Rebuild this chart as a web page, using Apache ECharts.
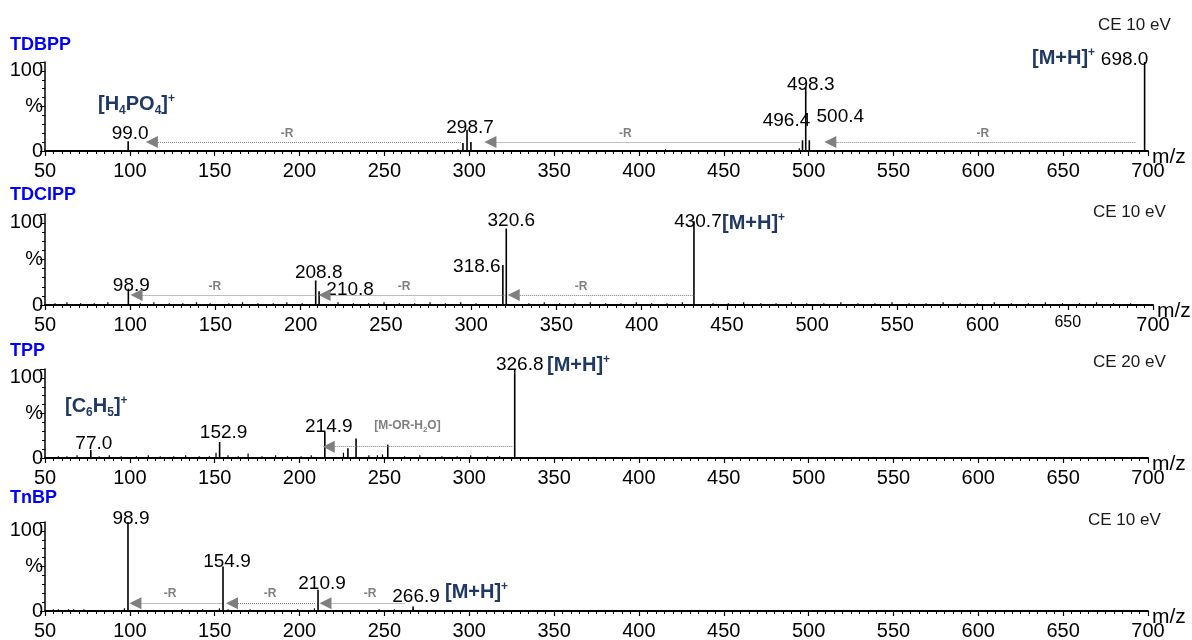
<!DOCTYPE html>
<html>
<head>
<meta charset="utf-8">
<title>MS/MS spectra of OPFRs</title>
<script src="https://cdn.jsdelivr.net/npm/echarts@6.0.0/dist/echarts.min.js"></script>
<style>
  html, body { margin: 0; padding: 0; background: #fff; }
  #chart { width: 1192px; height: 640px; }
</style>
</head>
<body>
<div id="chart"></div>
<script>
// x axis tick labels (m/z) and y axis tick labels
const mzTicks = [50, 100, 150, 200, 250, 300, 350, 400, 450, 500, 550, 600, 650, 700];
const yTickText = { 0: '0', 50: '%', 100: '100' };

// TDBPP, CE 10 eV
const tdbppMz = [99.0, 296.3, 298.7, 301.0, 496.4, 498.3, 500.4, 698.0];
const tdbppInt = [11, 9, 24, 10, 12, 72, 12, 100];
const tdbppLabels = ['99.0', '', '298.7', '', '496.4', '498.3', '500.4', '698.0'];
const tdbppNoiseMz = [293.5, 415.8, 494.6];
const tdbppNoiseInt = [2, 2, 3];
const tdbppLossFrom = [693, 495, 295.7];
const tdbppLossTo = [512.8, 312.5, 113];
const tdbppLossTextMz = [602.7, 392, 192.6];

// TDCIPP, CE 10 eV
const tdcippMz = [98.9, 208.8, 210.8, 318.6, 320.6, 430.7];
const tdcippInt = [18, 27, 15, 44, 84, 92];
const tdcippLabels = ['98.9', '208.8', '210.8', '318.6', '320.6', '430.7'];
const tdcippNoiseMz = [56, 63, 71, 79, 87, 106, 114, 123, 131, 139, 147, 158, 166, 175, 184, 192, 201,
  222, 231, 240, 249, 258, 267, 276, 285, 294, 303, 334, 343, 352, 361, 370, 379, 388, 397, 406, 415,
  424, 442, 451, 460, 470, 479, 488, 497, 507, 517, 527, 537, 547, 557, 567, 577, 587, 597, 607, 617,
  627, 637, 647, 657, 667, 677, 687];
const tdcippNoiseInt = [2, 3, 2, 2, 3, 2, 3, 2, 2, 3, 2, 2, 3, 2, 2, 3, 2,
  3, 2, 2, 3, 2, 2, 3, 2, 3, 2, 2, 3, 2, 2, 3, 2, 2, 3, 2, 2,
  3, 2, 2, 3, 2, 2, 3, 2, 2, 3, 2, 2, 3, 2, 2, 3, 2, 2, 3, 2,
  2, 3, 2, 2, 3, 2, 2];
const tdcippLossFrom = [431, 320, 209];
const tdcippLossTo = [325, 214, 103.7];
const tdcippLossTextMz = [364.5, 260.6, 149.7];

// TPP, CE 20 eV
const tppMz = [77.0, 152.9, 214.9, 228.5, 233.3, 252.0, 326.8];
const tppInt = [9, 18, 30, 11, 22, 15, 100];
const tppLabels = ['77.0', '152.9', '214.9', '', '', '', '326.8'];
const tppNoiseMz = [58, 63, 69, 82, 88, 95, 104, 111, 118, 126, 133, 141, 147, 150.9, 158, 164, 169.8,
  178, 186, 193, 201, 207, 226, 241, 246, 249, 262, 271, 284, 293, 301, 311, 318];
const tppNoiseInt = [2, 2, 3, 2, 3, 2, 2, 3, 2, 2, 3, 2, 2, 6, 3, 2, 5,
  2, 3, 2, 2, 3, 6, 3, 3, 4, 2, 3, 2, 2, 3, 2, 2];
const tppLossFrom = [325.8];
const tppLossTo = [217.2];
const tppLossTextMz = [263.6];

// TnBP, CE 10 eV
const tnbpMz = [98.9, 154.9, 210.9, 266.9];
const tnbpInt = [100, 50, 24, 5];
const tnbpLabels = ['98.9', '154.9', '210.9', '266.9'];
const tnbpNoiseMz = [55, 58, 61, 64, 67, 70, 73, 96.9, 120, 131, 143, 152.9, 158, 171, 176, 199, 208.9, 228, 247, 256];
const tnbpNoiseInt = [2, 2, 1, 2, 2, 1, 2, 3, 1, 2, 2, 3, 2, 2, 1, 2, 3, 1, 2, 2];
const tnbpLossFrom = [262, 209.7, 154.3];
const tnbpLossTo = [215.3, 160.2, 103.3];
const tnbpLossTextMz = [241.5, 182.6, 123.7];

const FONT = 'Liberation Sans, Arial, sans-serif';
const NAVY = '#1f3864';
const GREY = '#7f7f7f';

const panels = [
  { name: 'TDBPP', ce: 'CE 10 eV', mz: tdbppMz, int: tdbppInt, labels: tdbppLabels,
    noiseMz: tdbppNoiseMz, noiseInt: tdbppNoiseInt,
    lossFrom: tdbppLossFrom, lossTo: tdbppLossTo, lossTextMz: tdbppLossTextMz, lossText: '-R',
    lossLevel: 10, lossTextLevel: 19,
    grid: { top: 62, height: 89, right: 44 },
    offsets: [[2, 3], null, [3, 9], null, [-16, -9], [5, 8], [31, -13], [-20, 8]],
    nameTop: 35, ceLeft: 1098, ceTop: 15 },
  { name: 'TDCIPP', ce: 'CE 10 eV', mz: tdcippMz, int: tdcippInt, labels: tdcippLabels,
    noiseMz: tdcippNoiseMz, noiseInt: tdcippNoiseInt,
    lossFrom: tdcippLossFrom, lossTo: tdcippLossTo, lossTextMz: tdcippLossTextMz, lossText: '-R',
    lossLevel: 11, lossTextLevel: 20,
    grid: { top: 214, height: 91, right: 39 },
    offsets: [[3, 8], [3, 3], [31, 9], [-26, 12], [5, 3], [4, 11]],
    nameTop: 185, ceLeft: 1093, ceTop: 202, small650: true },
  { name: 'TPP', ce: 'CE 20 eV', mz: tppMz, int: tppInt, labels: tppLabels,
    noiseMz: tppNoiseMz, noiseInt: tppNoiseInt,
    lossFrom: tppLossFrom, lossTo: tppLossTo, lossTextMz: tppLossTextMz,
    lossText: '{g|[M-OR-H}{gs|2}{g|O]}',
    lossLevel: 12.7, lossTextLevel: 36.5,
    grid: { top: 369, height: 89, right: 44 },
    offsets: [[3, 4], [4, 1], [4, 6], null, null, null, [5, 6]],
    nameTop: 341, ceLeft: 1093, ceTop: 352 },
  { name: 'TnBP', ce: 'CE 10 eV', mz: tnbpMz, int: tnbpInt, labels: tnbpLabels,
    noiseMz: tnbpNoiseMz, noiseInt: tnbpNoiseInt,
    lossFrom: tnbpLossFrom, lossTo: tnbpLossTo, lossTextMz: tnbpLossTextMz, lossText: '-R',
    lossLevel: 8.7, lossTextLevel: 20,
    grid: { top: 522, height: 89, right: 44 },
    offsets: [[3, 7], [4, 6], [4, 5], [3, 1]],
    nameTop: 488, ceLeft: 1088, ceTop: 510 }
];

// ion annotations, positioned in pixels
const ionRich = {
  n: { color: NAVY, fontSize: 20, fontWeight: 'bold', fontFamily: FONT, lineHeight: 26, verticalAlign: 'middle' },
  sup: { color: NAVY, fontSize: 12, fontWeight: 'bold', fontFamily: FONT, verticalAlign: 'top', padding: [2, 0, 0, 0] },
  sub: { color: NAVY, fontSize: 12, fontWeight: 'bold', fontFamily: FONT, verticalAlign: 'bottom' }
};
const MH = '{n|[M+H]}{sup|+}';
const ions = [
  { text: '{n|[H}{sub|4}{n|PO}{sub|4}{n|]}{sup|+}', left: 98, top: 91 },
  { text: MH, left: 1032, top: 45 },
  { text: MH, left: 722, top: 210 },
  { text: '{n|[C}{sub|6}{n|H}{sub|5}{n|]}{sup|+}', left: 65, top: 393 },
  { text: MH, left: 547, top: 352 },
  { text: MH, left: 445, top: 579 }
];

const grids = [], xAxes = [], yAxes = [], series = [], titles = [];

panels.forEach(function (p, i) {
  grids.push({ left: 45, right: p.grid.right, top: p.grid.top, height: p.grid.height, outerBoundsMode: 'none' });

  xAxes.push({
    type: 'value', gridIndex: i,
    min: mzTicks[0], max: mzTicks[mzTicks.length - 1], interval: mzTicks[1] - mzTicks[0],
    name: 'm/z', nameLocation: 'end', nameGap: 4, nameMoveOverlap: false,
    nameTextStyle: { color: '#000', fontSize: 21, fontFamily: FONT, align: 'left', verticalAlign: 'top', lineHeight: 12 },
    axisLine: { show: true, onZero: false, lineStyle: { color: '#000', width: 2 } },
    axisTick: { show: true, length: 5, lineStyle: { color: '#000', width: 1.2 } },
    minorTick: { show: true, splitNumber: 10, length: 3, lineStyle: { color: '#000', width: 1 } },
    splitLine: { show: false }, minorSplitLine: { show: false },
    axisLabel: {
      color: '#000', fontSize: 20, fontFamily: FONT, margin: 10, showMinLabel: true, showMaxLabel: true,
      formatter: function (v) { return (p.small650 && v === 650) ? '{s|' + v + '}' : String(v); },
      rich: { s: { fontSize: 16, fontFamily: FONT, color: '#000' } }
    }
  });

  yAxes.push({
    type: 'value', gridIndex: i, min: 0, max: 100, interval: 50,
    axisLine: { show: true, onZero: false, lineStyle: { color: '#000', width: 1.5 } },
    axisTick: { show: true, length: 5, lineStyle: { color: '#000', width: 1 } },
    minorTick: { show: true, splitNumber: 5, length: 3, lineStyle: { color: '#000', width: 1 } },
    splitLine: { show: false }, minorSplitLine: { show: false },
    axisLabel: {
      color: '#000', fontSize: 20, fontFamily: FONT, margin: 2,
      formatter: function (v) { return v === 100 ? '{t|100}' : yTickText[v]; },
      rich: { t: { padding: [16, 0, 0, 0], fontSize: 20, fontFamily: FONT, color: '#000' } }
    }
  });

  // baseline noise
  series.push({
    type: 'bar', xAxisIndex: i, yAxisIndex: i, barWidth: 1.2, silent: true,
    itemStyle: { color: '#000' },
    data: p.noiseMz.map(function (m, k) { return [m, p.noiseInt[k]]; })
  });

  // labelled peaks + loss arrows
  series.push({
    type: 'bar', xAxisIndex: i, yAxisIndex: i, barWidth: 1.6, barGap: '-100%', silent: true,
    itemStyle: { color: '#000' },
    label: { show: false, position: 'top', distance: 1, color: '#000', fontSize: 19, fontFamily: FONT },
    data: p.mz.map(function (m, k) {
      const lab = p.labels[k];
      const item = { value: [m, p.int[k]] };
      if (lab) item.label = { show: true, formatter: lab, offset: p.offsets[k] || [0, 0] };
      return item;
    }),
    markLine: {
      silent: true, animation: false,
      symbol: ['triangle', 'none'], symbolSize: 12,
      lineStyle: { type: 'dotted', color: GREY, width: 1 },
      label: { show: false },
      data: p.lossFrom.map(function (f, k) {
        return [{ coord: [p.lossTo[k], p.lossLevel] }, { coord: [f, p.lossLevel] }];
      })
    },
    markPoint: {
      silent: true, animation: false, symbol: 'circle', symbolSize: 0,
      label: {
        show: true, position: 'inside', color: GREY, fontSize: 12, fontWeight: 'bold', fontFamily: FONT,
        formatter: p.lossText,
        rich: {
          g: { color: GREY, fontSize: 12, fontWeight: 'bold', fontFamily: FONT, lineHeight: 16, verticalAlign: 'middle' },
          gs: { color: GREY, fontSize: 8, fontWeight: 'bold', fontFamily: FONT, verticalAlign: 'bottom' }
        }
      },
      data: p.lossTextMz.map(function (m) { return { coord: [m, p.lossTextLevel] }; })
    }
  });

  titles.push({
    text: p.name, left: 10, top: p.nameTop, padding: 0,
    textStyle: { color: '#0000ff', fontSize: 18, fontWeight: 'bold', fontFamily: FONT, lineHeight: 20 }
  });
  titles.push({
    text: p.ce, left: p.ceLeft, top: p.ceTop, padding: 0,
    textStyle: { color: '#1a1a1a', fontSize: 17, fontWeight: 'normal', fontFamily: FONT, lineHeight: 20 }
  });
});

ions.forEach(function (a) {
  titles.push({ text: a.text, left: a.left, top: a.top, padding: 0, textStyle: { rich: ionRich } });
});

const chart = echarts.init(document.getElementById('chart'), null, { renderer: 'canvas' });
chart.setOption({
  backgroundColor: '#fff',
  animation: false,
  title: titles,
  grid: grids,
  xAxis: xAxes,
  yAxis: yAxes,
  series: series
});
window.addEventListener('resize', function () { chart.resize(); });
</script>
</body>
</html>
